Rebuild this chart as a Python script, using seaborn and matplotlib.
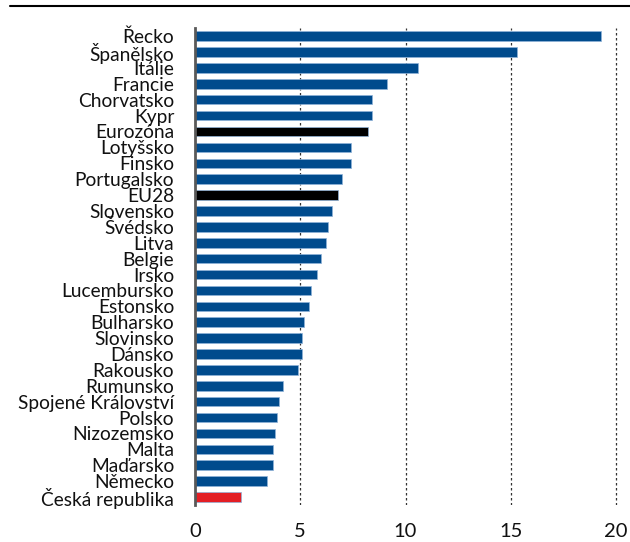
import pandas as pd
import matplotlib.pyplot as plt
import seaborn as sns
from matplotlib.lines import Line2D

# Data
countries = ["Řecko", "Španělsko", "Itálie", "Francie", "Chorvatsko", "Kypr",
             "Eurozóna", "Lotyšsko", "Finsko", "Portugalsko", "EU28", "Slovensko",
             "Švédsko", "Litva", "Belgie", "Irsko", "Lucembursko", "Estonsko",
             "Bulharsko", "Slovinsko", "Dánsko", "Rakousko", "Rumunsko",
             "Spojené Království", "Polsko", "Nizozemsko", "Malta", "Maďarsko",
             "Německo", "Česká republika"]
values = [19.3, 15.3, 10.6, 9.1, 8.4, 8.4, 8.2, 7.4, 7.4, 7.0, 6.8, 6.5,
          6.3, 6.2, 6.0, 5.8, 5.5, 5.4, 5.2, 5.1, 5.1, 4.9, 4.2,
          4.0, 3.9, 3.8, 3.7, 3.7, 3.4, 2.2]
groups = ["EU aggregate" if c in ("Eurozóna", "EU28") else
          ("CZ" if c == "Česká republika" else "country") for c in countries]

df = pd.DataFrame({"country": countries, "value": values, "group": groups})
palette = {"country": "#004b8d", "EU aggregate": "#000000", "CZ": "#e31e24"}

sns.set_style("white")
plt.rcParams["font.family"] = ["Lato", "DejaVu Sans"]

fig = plt.figure(figsize=(6.3, 5.42), dpi=100)
ax = fig.add_axes([0.3095, 0.0683, 0.675, 0.8797])

sns.barplot(data=df, y="country", x="value", hue="group", palette=palette,
            orient="h", width=0.6, legend=False, ax=ax, saturation=1,
            edgecolor="#8fb3d9", linewidth=0.5)

ax.set_xlim(0, 20.2)
ax.set_ylim(len(countries) - 0.5, -0.5)
ax.set_xticks([0, 5, 10, 15, 20])
ax.set_xlabel("")
ax.set_ylabel("")
for xv in [5, 10, 15, 20]:
    ax.axvline(xv, color="#333333", linestyle=(0, (2, 2)), linewidth=0.9, zorder=0)

for s in ["top", "right", "bottom"]:
    ax.spines[s].set_visible(False)
ax.spines["left"].set_color("#595959")
ax.spines["left"].set_linewidth(2)
ax.tick_params(axis="both", length=0, colors="#111111")
ax.tick_params(axis="y", pad=15, labelsize=13.8)
ax.tick_params(axis="x", pad=13, labelsize=14.5)

fig.add_artist(Line2D([10 / 630, 1.0], [1 - 6 / 542, 1 - 6 / 542],
                      color="black", linewidth=1.5))

fig.savefig("out.png", dpi=100)
